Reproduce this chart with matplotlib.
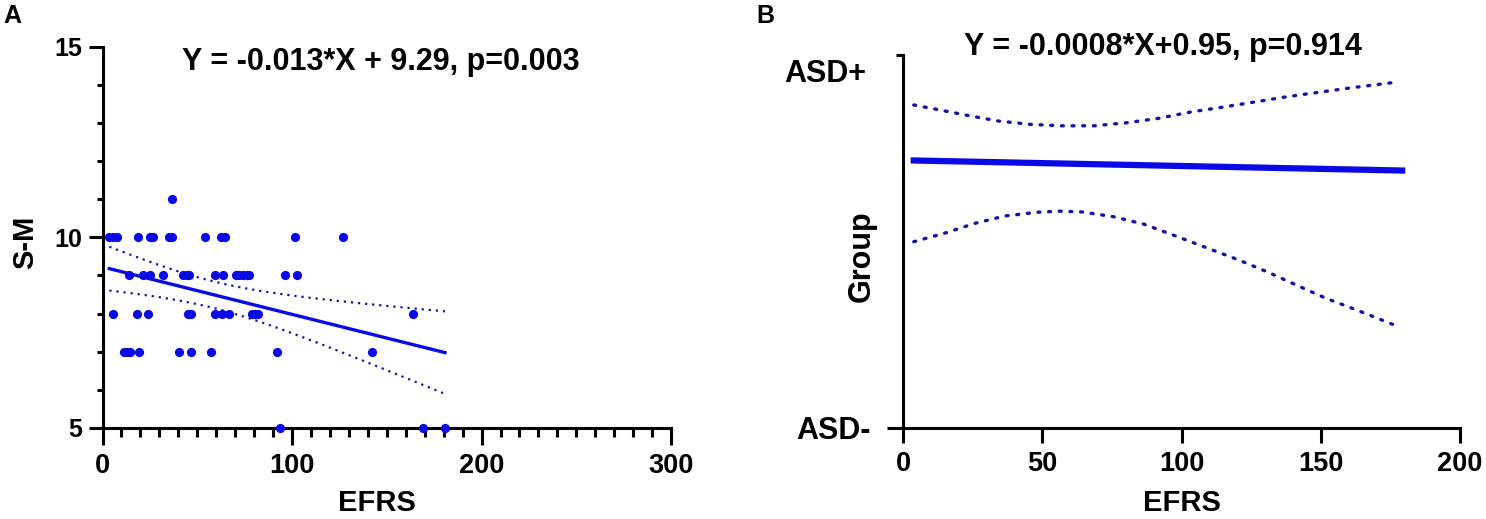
import numpy as np
import matplotlib
matplotlib.use("Agg")
from matplotlib import pyplot as plt
from matplotlib.ticker import MultipleLocator
import matplotlib.transforms as mtrans

plt.rcParams['font.family'] = ['Liberation Sans', 'DejaVu Sans']
plt.rcParams['font.weight'] = 'bold'

# Panel A : EFRS vs S-M
efrs_a = [36.8,
          3.6, 5.7, 7.8, 18.9, 25.1, 26.8, 35.3, 36.5, 54.2, 62.5, 64.6, 101.6, 127.1,
          14.0, 21.2, 25.1, 31.8, 42.6, 44.4, 45.8, 59.5, 63.7, 70.3, 72.0, 74.3, 76.1, 77.5, 96.3, 102.8,
          5.7, 18.0, 24.0, 45.3, 46.5, 59.5, 62.9, 66.6, 78.7, 80.5, 82.2, 164.0,
          11.5, 13.1, 14.5, 19.3, 40.4, 46.5, 57.3, 92.1, 142.4,
          93.8, 169.1, 180.7]
sm_a = [11] + [10] * 13 + [9] * 16 + [8] * 12 + [7] * 9 + [5] * 3

# Panel B : fitted line and its confidence band (Group 0..1)
b_line_x = [3.8, 179.2]
b_line_y = [0.717, 0.690]
b_upper_x = [3.8, 11.5, 22.4, 34.0, 45.5, 57.0, 68.6, 80.1, 91.7, 103.2, 114.7, 126.3, 137.8, 149.3, 160.9, 175.9]
b_upper_y = [0.866, 0.855, 0.839, 0.823, 0.814, 0.810, 0.810, 0.818, 0.830, 0.847, 0.860, 0.874, 0.888, 0.900, 0.912, 0.926]
b_lower_x = [3.8, 15.4, 25.6, 36.5, 48.1, 55.8, 64.1, 75.6, 86.5, 98.7, 109.6, 120.5, 131.4, 141.7, 151.9, 162.8, 176.9]
b_lower_y = [0.499, 0.523, 0.548, 0.568, 0.578, 0.581, 0.579, 0.566, 0.546, 0.512, 0.481, 0.450, 0.416, 0.381, 0.347, 0.316, 0.274]

title_a = "Y = -0.013*X + 9.29, p=0.003"
title_b = "Y = -0.0008*X+0.95, p=0.914"

blue = '#0a0ae6'
navy = '#1414a8'

fig = plt.figure(figsize=(14.86, 5.19), dpi=100)
ax1 = fig.add_axes([0.0690, 0.1755, 0.3826, 0.7345])
ax2 = fig.add_axes([0.6078, 0.1760, 0.3747, 0.7180])

for ax in (ax1, ax2):
    for side in ('top', 'right'):
        ax.spines[side].set_visible(False)
    for side in ('left', 'bottom'):
        ax.spines[side].set_linewidth(2.2)
        ax.spines[side].set_color('black')
    ax.tick_params(axis='x', which='major', length=12, width=2.2, labelsize=19.5, pad=6)
    ax.tick_params(axis='x', which='minor', length=6.5, width=2.2)
    ax.tick_params(axis='y', which='major', length=10, width=2.2, labelsize=18, pad=4.5)
    ax.tick_params(axis='y', which='minor', length=4.3, width=2.2)

# ---- Panel A
x = np.array(efrs_a)
y = np.array(sm_a, dtype=float)
slope, intercept = np.polyfit(x, y, 1)
n = len(x)
resid = y - (slope * x + intercept)
s = np.sqrt(np.sum(resid ** 2) / (n - 2))
sxx = np.sum((x - x.mean()) ** 2)
xs = np.linspace(x.min(), x.max(), 100)
fit = slope * xs + intercept
half = 2.007 * s * np.sqrt(1 / n + (xs - x.mean()) ** 2 / sxx)

ax1.scatter(x, y, s=44, color=blue, zorder=3, clip_on=False, linewidths=0)
ax1.plot(xs, fit, color=blue, lw=2.4, zorder=2)
ax1.plot(xs, fit + half, color=navy, lw=1.6, ls=(0, (1, 2.2)), zorder=2)
ax1.plot(xs, fit - half, color=navy, lw=1.6, ls=(0, (1, 2.2)), zorder=2)

ax1.set_xlim(0, 300)
ax1.set_ylim(5, 15)
ax1.xaxis.set_major_locator(MultipleLocator(100))
ax1.xaxis.set_minor_locator(MultipleLocator(10))
ax1.yaxis.set_major_locator(MultipleLocator(5))
ax1.yaxis.set_minor_locator(MultipleLocator(1))
ax1.text(0.482, -0.196, "EFRS", transform=ax1.transAxes, ha='center', va='center',
         fontsize=21, fontweight='bold')
ax1.text(-0.136, 0.486, "S-M", transform=ax1.transAxes, ha='center', va='center',
         rotation=90, fontsize=21, fontweight='bold')
ax1.text(0.489, 0.939, title_a, transform=ax1.transAxes, ha='center', va='baseline',
         fontsize=22, fontweight='bold')

# ---- Panel B
ax2.plot(b_line_x, b_line_y, color=blue, lw=4.5, zorder=2)
ax2.plot(b_upper_x, b_upper_y, color=navy, lw=2.4, ls=(0, (0.6, 2.6)),
         dash_capstyle='round', zorder=2)
ax2.plot(b_lower_x, b_lower_y, color=navy, lw=2.4, ls=(0, (0.6, 2.6)),
         dash_capstyle='round', zorder=2)

ax2.set_xlim(0, 200)
ax2.set_ylim(0, 1)
ax2.set_xticks([0, 50, 100, 150, 200])
ax2.set_yticks([0])
ax2.set_yticklabels(["ASD-"])
ax2.set_yticks([1], minor=True)
ax2.set_yticklabels(["ASD+"], minor=True)
ax2.tick_params(axis='y', which='major', length=11.5, labelsize=22, pad=12)
ax2.tick_params(axis='y', which='minor', length=5, labelsize=22, pad=21.5)
ax2.tick_params(axis='x', which='major', length=11)
for lbl in ax2.get_yticklabels(minor=True):
    lbl.set_transform(lbl.get_transform() + mtrans.ScaledTranslation(0, -0.15, fig.dpi_scale_trans))
ax2.text(0.5, -0.201, "EFRS", transform=ax2.transAxes, ha='center', va='center',
         fontsize=21, fontweight='bold')
ax2.text(-0.0736, 0.459, "Group", transform=ax2.transAxes, ha='center', va='center',
         rotation=90, fontsize=22, fontweight='bold')
ax2.text(0.467, 1.0, title_b, transform=ax2.transAxes, ha='center', va='baseline',
         fontsize=22, fontweight='bold')

fig.text(0.002, 0.969, "A", fontsize=18, fontweight='bold', va='center')
fig.text(0.509, 0.969, "B", fontsize=18, fontweight='bold', va='center')

fig.savefig("out.png", dpi=100)
